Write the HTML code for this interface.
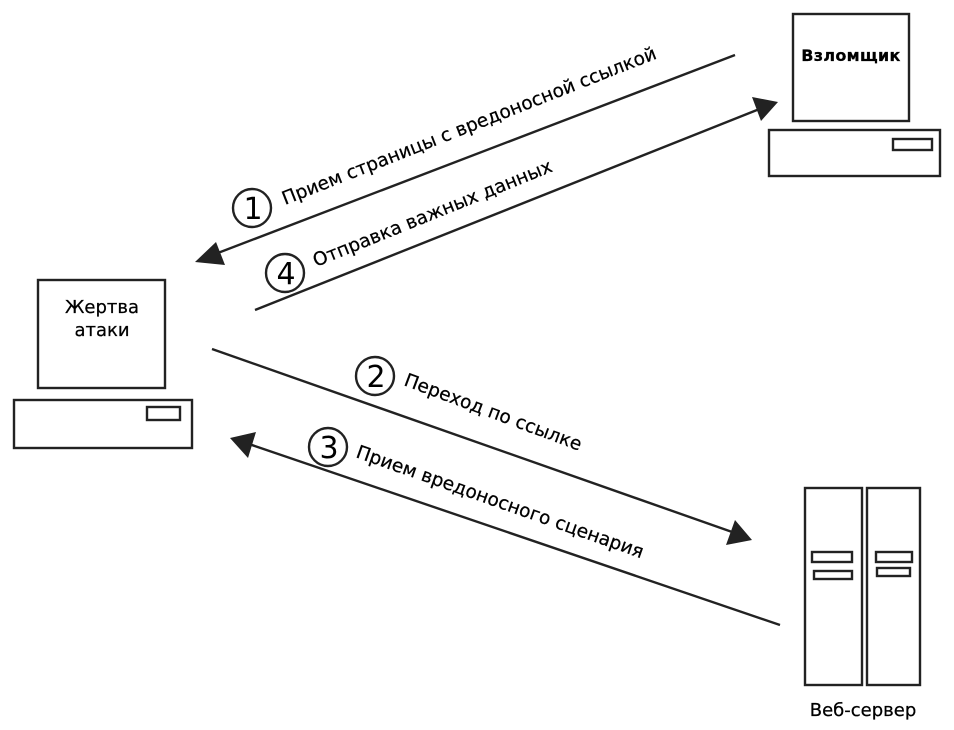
<!DOCTYPE html>
<html><head><meta charset="utf-8"><style>
html,body{margin:0;padding:0;background:#fff;}
svg{display:block;}
text{font-family:"DejaVu Sans","Liberation Sans",sans-serif;fill:#000;stroke:#000;stroke-width:0.25;}
</style></head><body>
<svg width="954" height="730" viewBox="0 0 954 730" xmlns="http://www.w3.org/2000/svg">
<g fill="none" stroke="#222" stroke-width="2.4">
<rect x="38" y="280" width="127" height="108"/>
<rect x="14" y="400" width="178" height="48"/>
<rect x="147" y="407" width="33" height="13"/>
<rect x="793" y="14" width="116" height="107"/>
<rect x="769" y="130" width="171" height="46"/>
<rect x="893" y="139" width="39" height="11"/>
<rect x="805" y="488" width="57" height="197"/>
<rect x="867" y="488" width="53" height="197"/>
<rect x="812" y="552" width="40" height="10"/>
<rect x="814" y="571" width="38" height="8"/>
<rect x="876" y="552" width="36" height="10"/>
<rect x="877" y="568" width="33" height="8"/>
<line x1="735" y1="55" x2="210" y2="256"/>
<line x1="255" y1="310" x2="762" y2="108"/>
<line x1="212" y1="349" x2="735" y2="533"/>
<line x1="780" y1="625" x2="246" y2="443"/>
<circle cx="252" cy="208" r="19"/>
<circle cx="285" cy="273" r="19"/>
<circle cx="375" cy="376" r="19"/>
<circle cx="328" cy="447" r="19"/>
</g>
<g fill="#222">
<polygon points="195,262 216,242 225,265"/>
<polygon points="778,102 752,97 761,121"/>
<polygon points="752,540 726,545 735,520"/>
<polygon points="230,438 248,458 256,432"/>
</g>
<g font-size="30" text-anchor="middle">
<text x="253" y="219" style="stroke-width:0">1</text>
<text x="286" y="284" style="stroke-width:0">4</text>
<text x="376" y="387" style="stroke-width:0">2</text>
<text x="329" y="458" style="stroke-width:0">3</text>
</g>
<text x="285" y="205" font-size="18.5" transform="rotate(-21.5 285 205)">Прием страницы с вредоносной ссылкой</text>
<text x="316" y="267" font-size="18.5" transform="rotate(-22 316 267)">Отправка важных данных</text>
<text x="403" y="385" font-size="18.5" transform="rotate(20.5 403 385)">Переход по ссылке</text>
<text x="355" y="457" font-size="18.5" transform="rotate(19.5 355 457)">Прием вредоносного сценария</text>
<text x="102" y="313" font-size="18" text-anchor="middle">Жертва</text>
<text x="102" y="336" font-size="18" text-anchor="middle">атаки</text>
<text x="851" y="61" font-size="16" font-weight="bold" text-anchor="middle" letter-spacing="0.3">Взломщик</text>
<text x="863" y="716" font-size="18" text-anchor="middle">Веб-сервер</text>
</svg>
</body></html>
